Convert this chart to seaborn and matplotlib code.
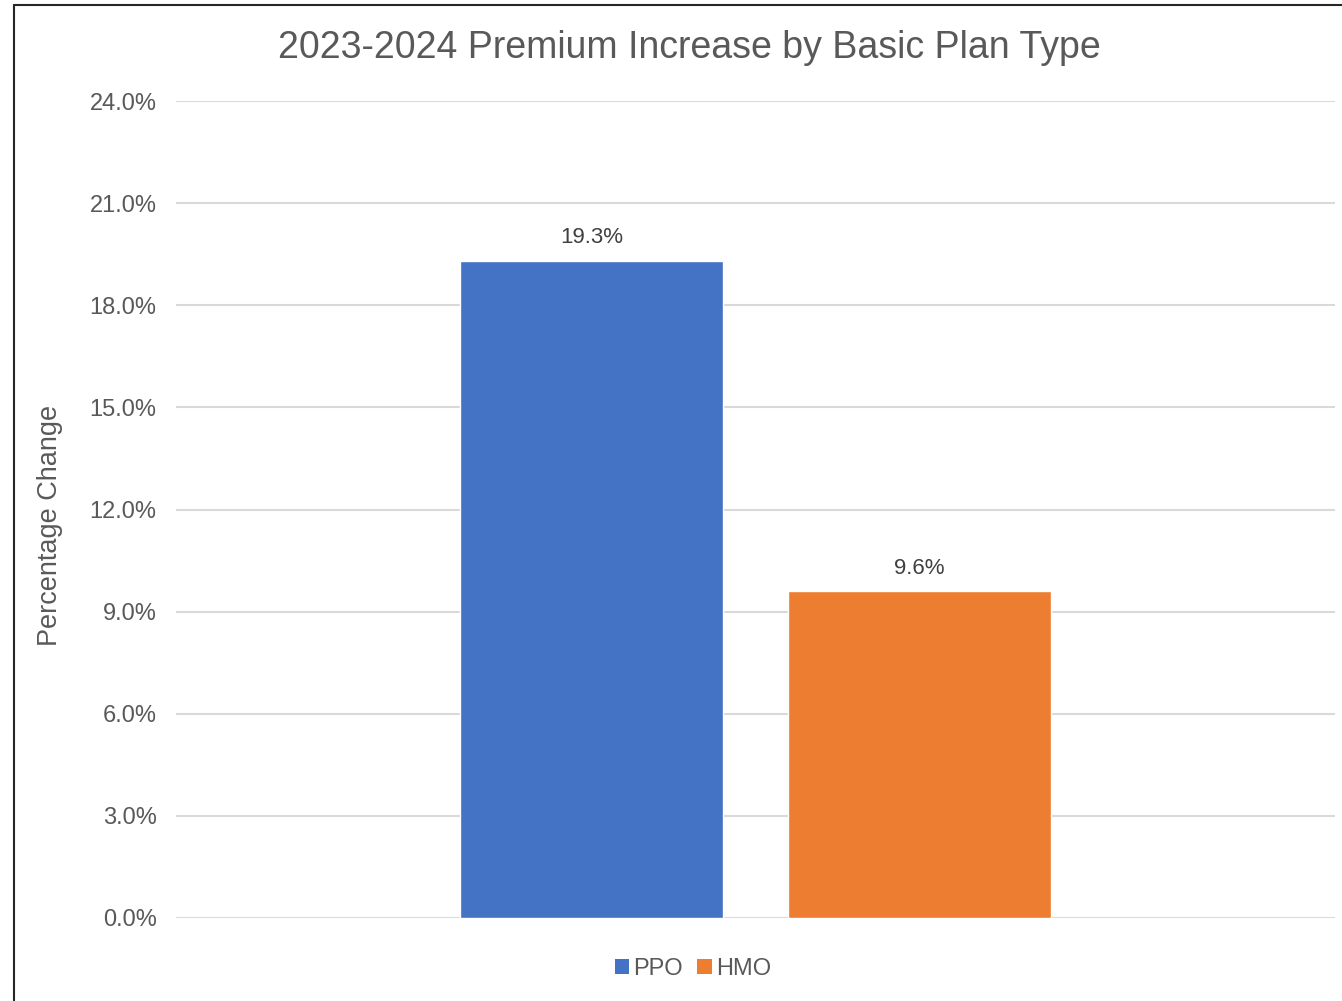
import numpy as np
import pandas as pd
import seaborn as sns
import matplotlib.pyplot as plt
from matplotlib.lines import Line2D
from matplotlib.patches import Patch

plans = ['PPO', 'HMO']
pct_change = [19.3, 9.6]
plan_colors = ['#4472C4', '#ED7D31']
y_ticks = [0, 3, 6, 9, 12, 15, 18, 21, 24]

df = pd.DataFrame({'group': ['all'] * len(plans), 'plan': plans, 'pct': pct_change})

sns.set_style('white')
plt.rcParams['font.family'] = ['Liberation Sans', 'DejaVu Sans']
text_col = '#595959'

W, H = 1342, 1001
fig = plt.figure(figsize=(W / 100, H / 100), dpi=100)
ax = fig.add_axes([176 / W, 1 - 918 / H, (1335 - 176) / W, (918 - 101) / H])

sns.barplot(data=df, x='group', y='pct', hue='plan', hue_order=plans,
            palette=plan_colors, width=0.566, gap=0.2, ax=ax, legend=False,
            saturation=1, errorbar=None)

ax.set_ylim(0, 24)
ax.set_xlim(-0.5, 0.5)
ax.set_yticks(y_ticks)
ax.set_yticklabels([f'{t:.1f}%' for t in y_ticks], fontsize=17, color=text_col)
ax.tick_params(axis='y', length=0, pad=14)
ax.set_xticks([])
ax.set_xlabel('')
ax.set_ylabel('Percentage Change', fontsize=19.5, color=text_col)
ax.yaxis.set_label_coords((50 - 176) / 1159, (918 - 525) / 817)
ax.yaxis.label.set_va('center')
ax.yaxis.grid(True, color='#D9D9D9', linewidth=1.5)
ax.set_axisbelow(True)
for s in ax.spines.values():
    s.set_visible(False)

for cont in ax.containers:
    ax.bar_label(cont, fmt='%.1f%%', fontsize=16, color='#404040', padding=9)

fig.text(689 / W, 1 - 48 / H, '2023-2024 Premium Increase by Basic Plan Type',
         ha='center', va='center', fontsize=27, color=text_col)

handles = [Patch(facecolor=c, edgecolor='none') for c in plan_colors]
fig.legend(handles, plans, loc='center', bbox_to_anchor=(693 / W, 1 - 969 / H),
           ncol=2, frameon=False, fontsize=17, handlelength=0.6, handleheight=0.6,
           handletextpad=0.2, columnspacing=0.6, labelcolor=text_col)

# chart frame (only left and top edges visible in the crop)
fig.add_artist(Line2D([14 / W, 14 / W], [0, 1 - 5 / H], color='#262626', lw=1.5))
fig.add_artist(Line2D([14 / W, 1], [1 - 5 / H, 1 - 5 / H], color='#262626', lw=1.5))

fig.savefig('out.png', dpi=100, facecolor='white')
